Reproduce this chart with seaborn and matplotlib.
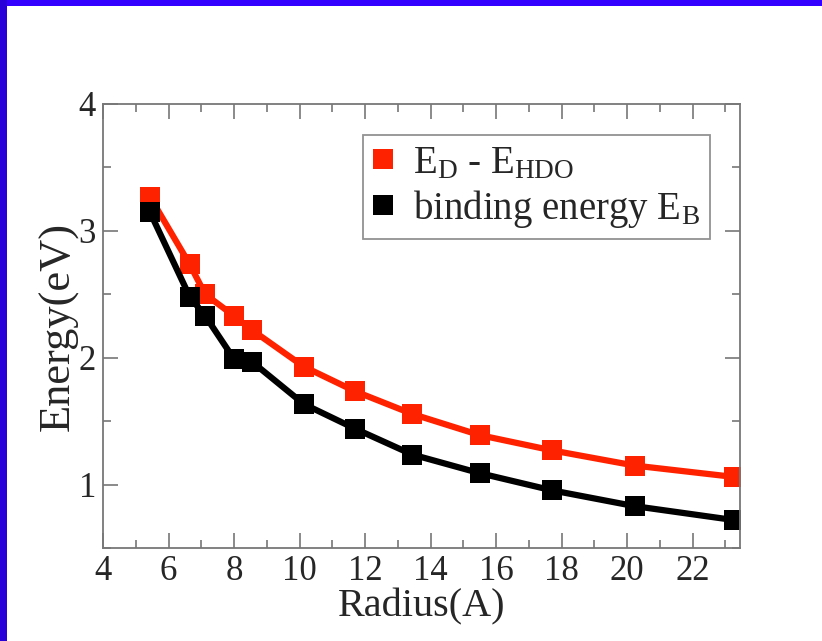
import matplotlib
matplotlib.use("Agg")
import matplotlib.pyplot as plt
from matplotlib.patches import Rectangle
from matplotlib.ticker import MultipleLocator
import seaborn as sns
import pandas as pd

radius = [5.43, 6.65, 7.12, 8.0, 8.54, 10.13, 11.7, 13.44, 15.5, 17.7, 20.23, 23.27]
e_diff = [3.27, 2.735, 2.5, 2.33, 2.22, 1.93, 1.735, 1.557, 1.39, 1.27, 1.15, 1.06]
e_bind = [3.15, 2.48, 2.33, 1.99, 1.97, 1.635, 1.44, 1.237, 1.09, 0.955, 0.83, 0.72]
labels = [r"$\mathrm{E_D}$ - $\mathrm{E_{HDO}}$", r"binding energy $\mathrm{E_B}$"]
colors = ["#ff2200", "#000000"]

df = pd.DataFrame({
    "Radius": radius + radius,
    "Energy": e_diff + e_bind,
    "series": [labels[0]] * len(radius) + [labels[1]] * len(radius),
})

sns.set_theme(style="white")
plt.rcParams["font.family"] = ["Liberation Serif", "DejaVu Serif"]
plt.rcParams["mathtext.fontset"] = "custom"
plt.rcParams["mathtext.rm"] = "Liberation Serif"
plt.rcParams["mathtext.it"] = "Liberation Serif:italic"

fig = plt.figure(figsize=(8.22, 6.41), dpi=100)
fig.patch.set_facecolor("white")
ax = fig.add_axes([103 / 822, 1 - 548 / 641, (740 - 103) / 822, (548 - 104) / 641])

sns.lineplot(data=df, x="Radius", y="Energy", hue="series", palette=colors,
             hue_order=labels, style="series", markers=["s", "s"], dashes=False,
             sort=False, lw=4.5, markersize=14.5, markeredgewidth=0, ax=ax)

ax.set_xlim(4, 23.45)
ax.set_ylim(0.5, 4)
ax.xaxis.set_major_locator(MultipleLocator(2))
ax.xaxis.set_minor_locator(MultipleLocator(1))
ax.yaxis.set_major_locator(MultipleLocator(1))
ax.yaxis.set_minor_locator(MultipleLocator(0.5))
ax.tick_params(which="both", direction="in", top=True, right=True, bottom=True, left=True,
               color="#777777", width=1.2, labelsize=25, pad=5)
ax.tick_params(which="major", length=11)
ax.tick_params(which="minor", length=6)
for s in ax.spines.values():
    s.set_color("#777777")
    s.set_linewidth(1.3)

ax.set_xlabel("Radius(A)", fontsize=29, labelpad=0)
ax.set_ylabel("Energy(eV)", fontsize=32, labelpad=0)

leg = ax.legend(loc="upper right", bbox_to_anchor=(0.953, 0.93), fontsize=28,
                frameon=True, fancybox=False, edgecolor="#777777", handlelength=0.55,
                handletextpad=0.5, borderpad=0.25, labelspacing=0.15, borderaxespad=0)
leg.get_frame().set_linewidth(1.3)
for h in leg.legend_handles:
    h.set_linestyle("None")
    h.set_markersize(15)

fig.add_artist(Rectangle((0, 1 - 6 / 641), 1, 6 / 641, transform=fig.transFigure,
                         facecolor="#3300ff", edgecolor="none"))
fig.add_artist(Rectangle((0, 0), 7 / 822, 1, transform=fig.transFigure,
                         facecolor="#2a00d8", edgecolor="none"))

fig.savefig("out.png", dpi=100)
